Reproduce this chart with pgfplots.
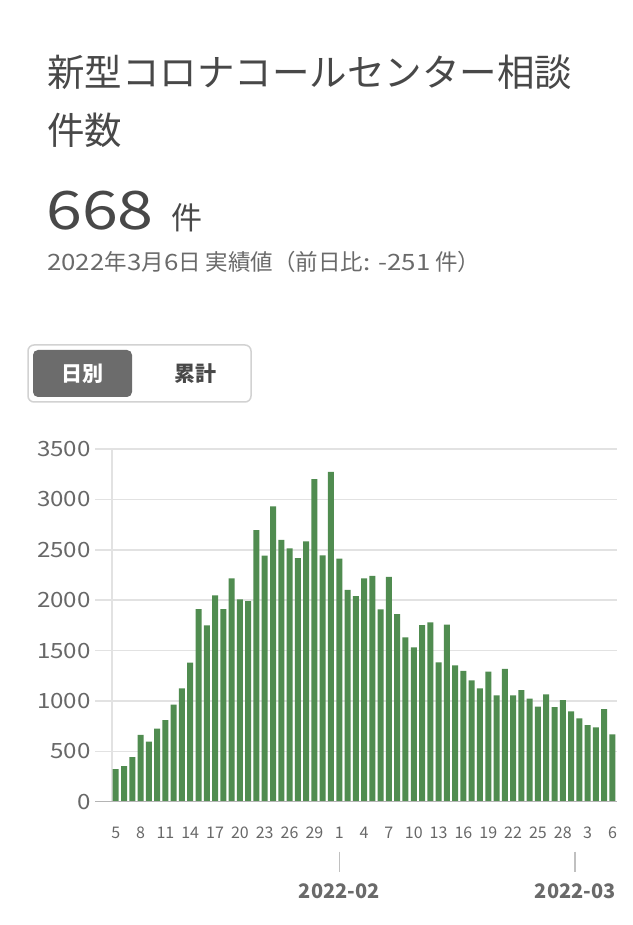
\documentclass[border=0pt]{standalone}
\usepackage{fontspec}
\setmainfont{Noto Sans CJK JP}
\newfontfamily\wdg{Noto Sans CJK JP}[FakeStretch=1.15]
\newfontfamily\wdgg{Noto Sans CJK JP}[FakeStretch=1.22]
\usepackage{pgfplots}
\pgfplotsset{compat=1.18}
\definecolor{bargreen}{RGB}{80,140,80}
\definecolor{titlegray}{HTML}{484848}
\definecolor{subgray}{HTML}{6A6A6A}
\definecolor{tickgray}{HTML}{686868}
\definecolor{gridgray}{HTML}{E2E2E2}
\definecolor{basegray}{HTML}{B4B4B4}
\definecolor{btnborder}{HTML}{D2D2D2}
\definecolor{btnfill}{HTML}{6C6C6C}
\definecolor{secgray}{HTML}{C0C0C0}
\pgfplotstableread{
idx val
0 324
1 354
2 443
3 662
4 595
5 724
6 810
7 963
8 1125
9 1379
10 1912
11 1750
12 2048
13 1912
14 2216
15 2008
16 1991
17 2696
18 2441
19 2931
20 2597
21 2514
22 2418
23 2583
24 3202
25 2445
26 3272
27 2412
28 2101
29 2041
30 2216
31 2240
32 1909
33 2230
34 1862
35 1631
36 1532
37 1753
38 1780
39 1383
40 1757
41 1353
42 1297
43 1204
44 1125
45 1290
46 1055
47 1317
48 1055
49 1108
50 1022
51 943
52 1065
53 939
54 1009
55 896
56 827
57 761
58 738
59 919
60 668
}\datatable
\begin{document}
\begin{tikzpicture}[x=1pt,y=1pt]
\path[fill=white,use as bounding box] (0,0) rectangle (632,925);
% titles
\node[anchor=west,inner sep=0,text=titlegray,font=\fontsize{37.5}{44}\selectfont] at (47,853) {新型コロナコールセンター相談};
\node[anchor=west,inner sep=0,text=titlegray,font=\fontsize{37.5}{44}\selectfont] at (47,795) {件数};
\node[anchor=base west,inner sep=0,text=titlegray,font=\fontsize{53}{60}\wdgg] at (46,695) {668};
\node[anchor=base west,inner sep=0,text=titlegray,font=\fontsize{31}{36}\selectfont] at (171,695) {件};
\node[anchor=west,inner sep=0,text=subgray,font=\fontsize{22.5}{26}\selectfont] at (47,663) {{\wdg 2022}年{\wdg 3}月{\wdg 6}日 実績値（前日比{\wdg : -251} 件）};
% buttons
\draw[btnborder,line width=1.5pt,rounded corners=6pt] (28,523) rectangle (251,580);
\fill[btnfill,rounded corners=5pt] (33,528) rectangle (132,575);
\node[text=white,font=\fontsize{21}{24}\selectfont\bfseries,inner sep=0] at (82.5,551.5) {日別};
\node[text=titlegray,font=\fontsize{21}{24}\selectfont\bfseries,inner sep=0] at (195.5,551.5) {累計};
\begin{axis}[
  at={(112pt,123.3pt)}, anchor=south west,
  scale only axis, width=505pt, height=352.7pt,
  xmin=-0.45, xmax=60.55, ymin=0, ymax=3500,
  axis line style={draw=none},
  ytick={0,500,...,3500},
  ymajorgrids, major grid style={draw=gridgray,line width=1.5pt},
  ytick pos=left, tick align=outside, major tick length=17pt,
  ytick style={draw=gridgray,line width=1.5pt},
  xtick={0,3,...,60},
  xticklabels={5,8,11,14,17,20,23,26,29,1,4,7,10,13,16,19,22,25,28,3,6},
  xtick style={draw=none},
  /pgf/number format/assume math mode=true,
  /pgf/number format/1000 sep={},
  yticklabel style={font=\fontsize{21}{21}\wdg,text=tickgray,inner sep=0pt,xshift=-4pt},
  xticklabel style={font=\fontsize{16}{16}\selectfont,text=tickgray,inner sep=0pt,yshift=-8pt},
  clip=false,
]
\draw[gridgray,line width=1.5pt] (axis cs:-0.45,0) -- (axis cs:-0.45,3500);
\addplot[ybar, bar width=6pt, fill=bargreen, draw=none] table[x=idx,y=val] {\datatable};
\draw[basegray,line width=1.5pt] ([xshift=-17pt]axis cs:-0.45,0) -- (axis cs:60.55,0);
\draw[secgray,line width=1.5pt] ([yshift=-50pt]axis cs:27,0) -- ([yshift=-70pt]axis cs:27,0);
\draw[secgray,line width=1.5pt] ([yshift=-50pt]axis cs:55.5,0) -- ([yshift=-70pt]axis cs:55.5,0);
\node[text=subgray,font=\fontsize{20}{22}\selectfont\bfseries,inner sep=0] at ([yshift=-90pt]axis cs:27,0) {2022-02};
\node[text=subgray,font=\fontsize{20}{22}\selectfont\bfseries,inner sep=0] at ([yshift=-90pt]axis cs:55.5,0) {2022-03};
\end{axis}
\end{tikzpicture}
\end{document}
